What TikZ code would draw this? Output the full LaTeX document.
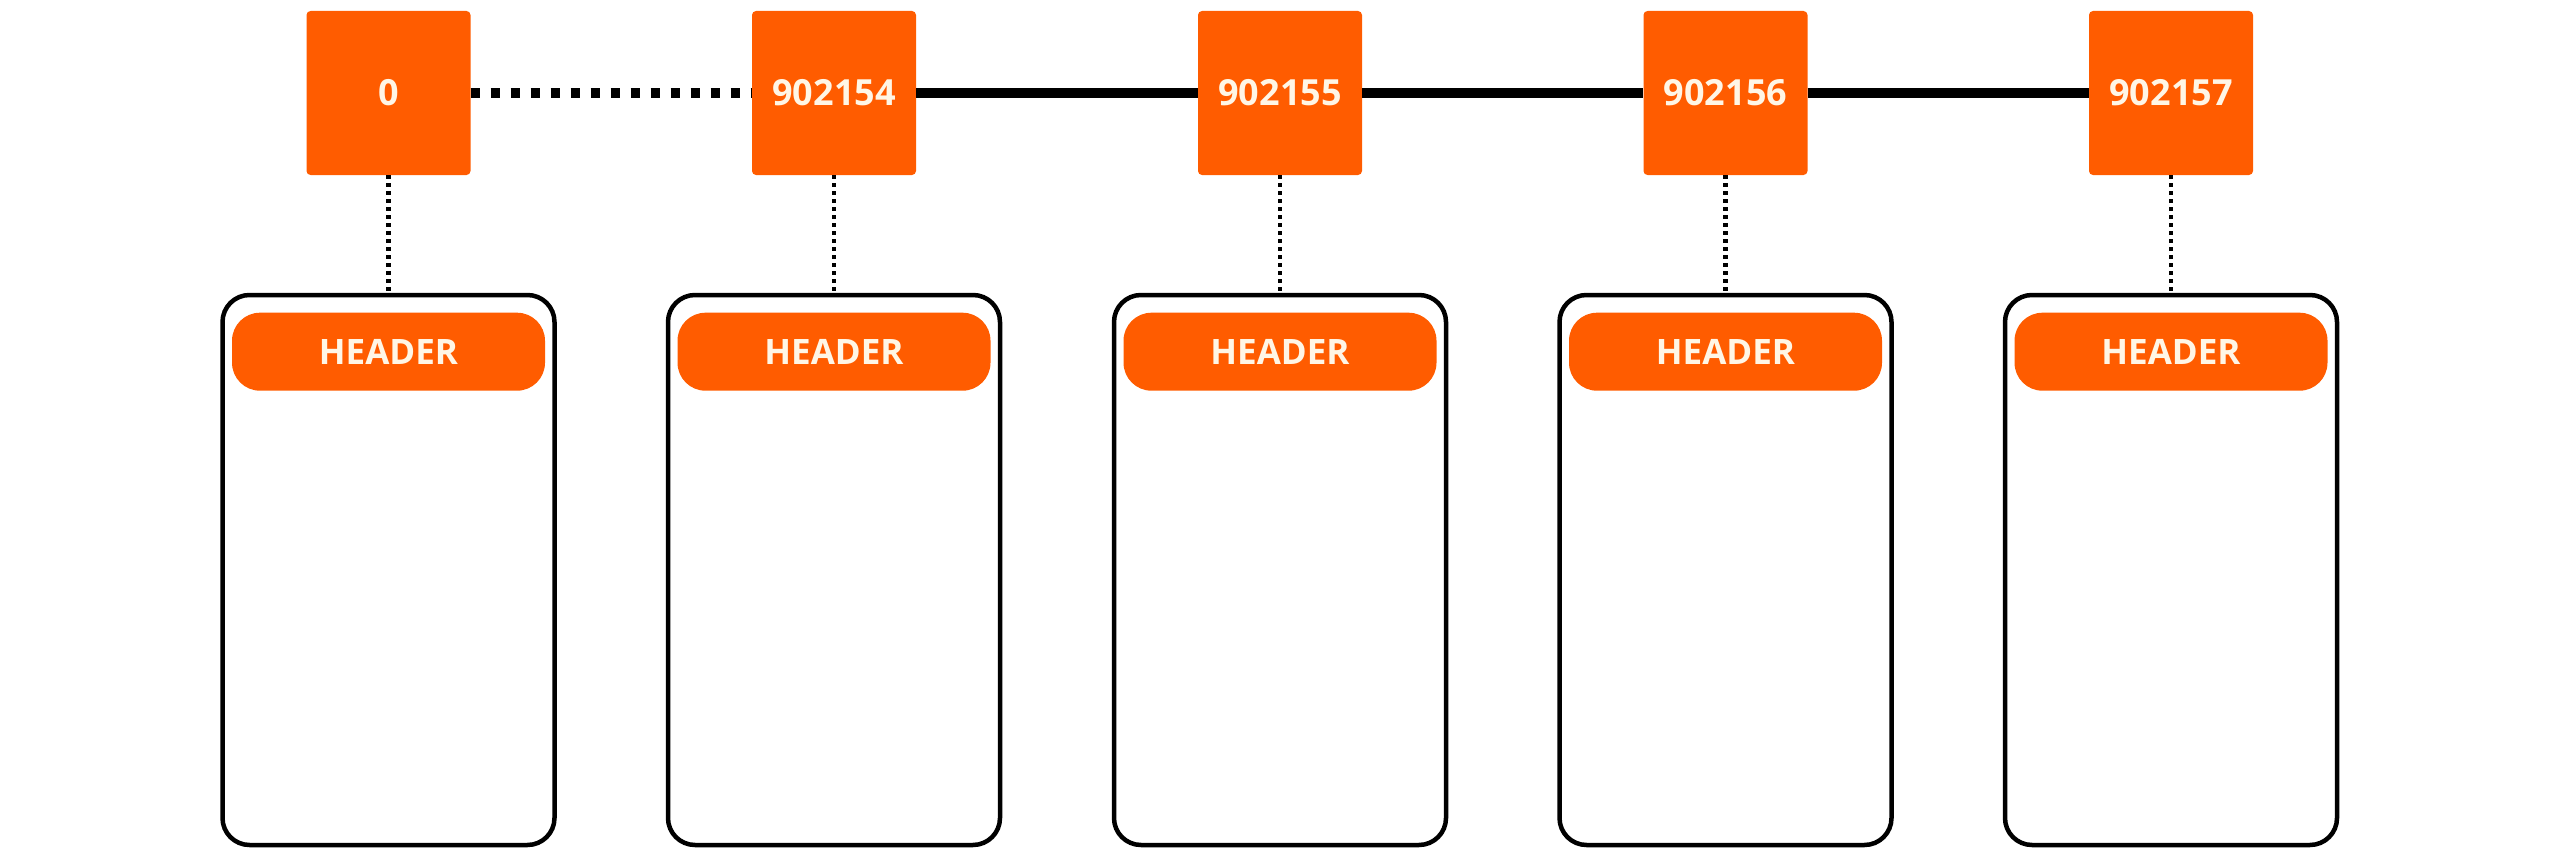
\documentclass[tikz,border=0pt]{standalone}
\usepackage{fontspec}
\setmainfont{Open Sans}
\definecolor{orng}{HTML}{FF5C00}
\definecolor{cream}{HTML}{FFF6E6}
\begin{document}
\begin{tikzpicture}[x=1pt,y=-1pt,
  sq/.style={fill=orng, rounded corners=4pt, minimum width=164pt, minimum height=164pt, inner sep=0pt,
     text=cream, font=\fontsize{36}{40}\selectfont\bfseries},
  card/.style={draw=black, line width=4.5pt, rounded corners=27pt, minimum width=332pt, minimum height=550pt, inner sep=0pt},
  hdr/.style={fill=orng, rounded corners=28pt, minimum width=313pt, minimum height=78pt, inner sep=0pt,
     text=cream, font=\fontsize{35}{40}\selectfont\bfseries},
  link/.style={line width=9pt},
  dotlink/.style={line width=9pt, dash pattern=on 9pt off 11pt},
  vlink/.style={line width=4.5pt, dash pattern=on 4pt off 4pt}
]
\useasboundingbox (0,0) rectangle (2560,859);
\foreach \i/\x/\lab in {0/388.5/0, 1/834/902154, 2/1280/902155, 3/1725.5/902156, 4/2171/902157}{
  \node[card] (c\i) at (\x,570) {};
  \node[hdr] (h\i) at (\x,351.7) {HEADER};
  \node[sq] (s\i) at (\x,93) {\lab};
  \draw[vlink] (s\i.south) -- (c\i.north);
}
\draw[dotlink] (s0.east) -- (s1.west);
\draw[link] (s1.east) -- (s2.west);
\draw[link] (s2.east) -- (s3.west);
\draw[link] (s3.east) -- (s4.west);
\end{tikzpicture}
\end{document}
